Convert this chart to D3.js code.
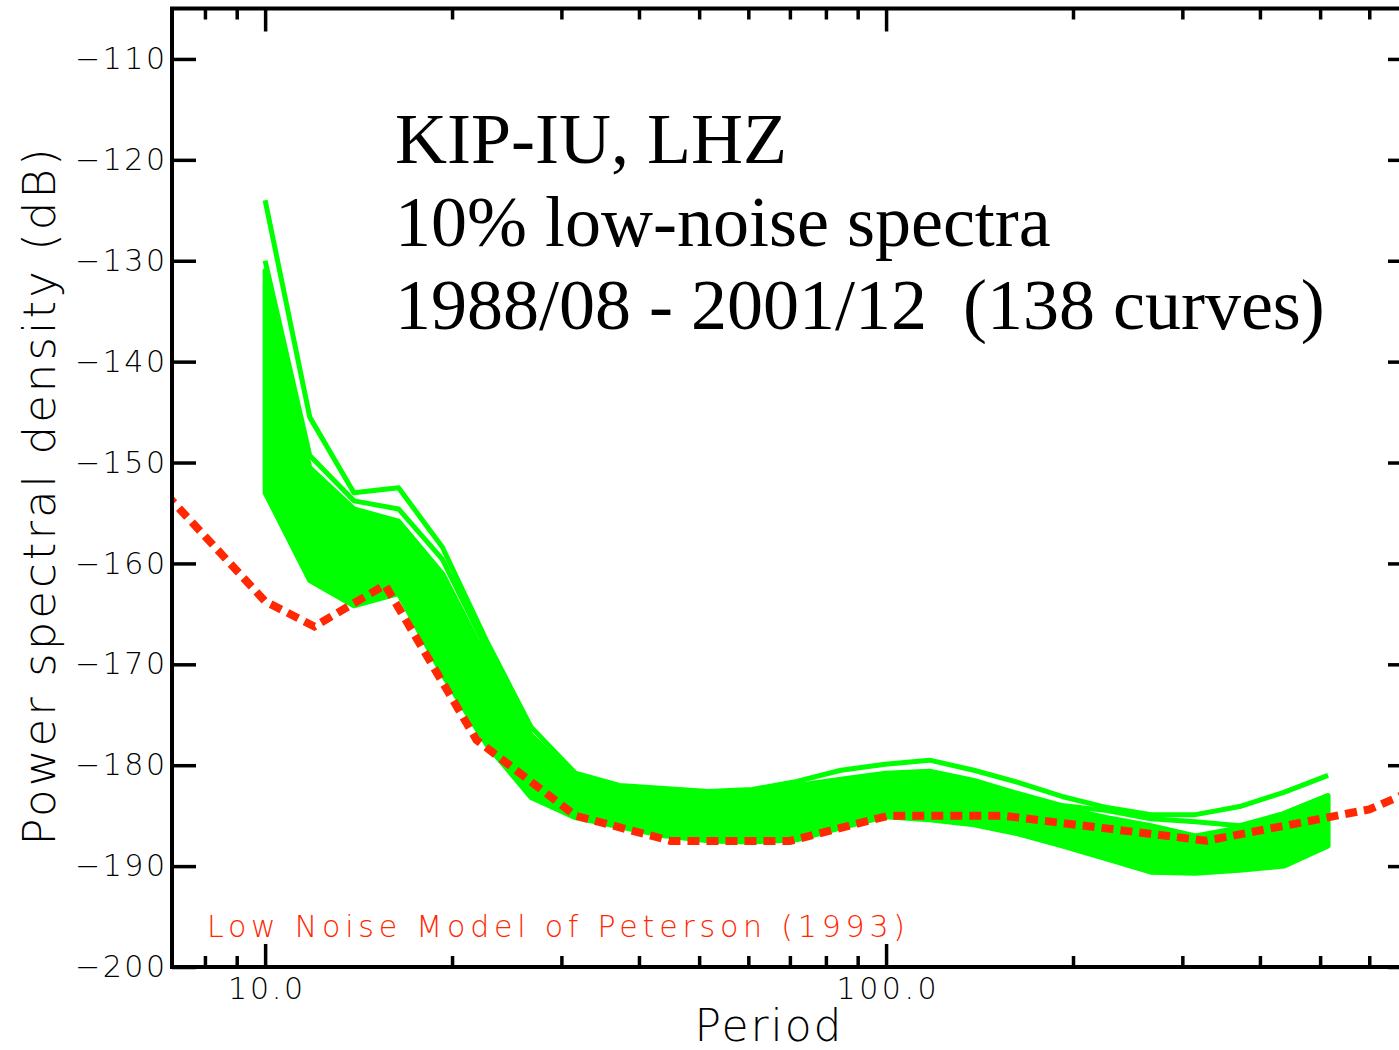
<!DOCTYPE html>
<html>
<head>
<meta charset="utf-8">
<script src="https://cdn.jsdelivr.net/npm/d3@7"></script>
<style>
  html, body { margin: 0; padding: 0; background: #fff; }
  svg { display: block; }
  .sans { font-family: "DejaVu Sans", sans-serif; font-weight: 300; }
  .serif { font-family: "Liberation Serif", "Times New Roman", serif; white-space: pre; }
</style>
</head>
<body>
<svg id="chart" width="1399" height="1050"></svg>
<script>
// periods (s) at which the spectra are sampled
const periods = [10, 11.8, 13.9, 16.4, 19.3, 22.7, 26.8, 31.6, 37.2, 43.9, 51.7, 60.9,
  71.8, 84.6, 99.7, 117.5, 138.5, 163, 192, 227, 267, 315, 371, 437, 515];

// the two loudest curves that stand out above the bundle
const curveA = [-124.0, -145.5, -153.0, -152.5, -158.4, -167.6, -176.2, -180.8, -182.0, -182.3,
  -182.6, -182.4, -181.6, -180.5, -179.9, -179.5, -180.5, -181.7, -183.1, -184.2, -184.9,
  -184.9, -184.1, -182.7, -181.0];
const curveB = [-130.0, -149.3, -153.8, -154.6, -159.6, -168.4, -177.0, -181.2, -182.3, -182.6,
  -182.9, -182.8, -182.0, -181.4, -180.8, -180.6, -181.5, -182.8, -184.0, -184.5, -185.3,
  -185.6, -186.0, -184.8, -183.0];

// top and bottom of the dense bundle of 138 curves
const bandTop = [-131.0, -150.5, -154.6, -155.8, -161.0, -169.4, -177.6, -181.4, -182.5, -182.8,
  -183.1, -183.0, -182.3, -181.6, -181.0, -180.8, -181.6, -182.9, -184.2, -185.2, -186.0,
  -187.0, -186.2, -184.8, -183.0];
const bandLow = [-153.0, -161.7, -164.2, -163.0, -171.0, -177.9, -183.2, -185.2, -186.1, -187.0,
  -187.5, -187.6, -187.4, -186.2, -185.1, -185.4, -185.9, -186.8, -188.0, -189.3, -190.6,
  -190.7, -190.4, -190.0, -188.0];

// Peterson (1993) new low noise model breakpoints
const nlnmPeriods = [6, 10, 12, 15.6, 21.9, 31.6, 45, 70, 101, 154, 328, 600, 1000];
const nlnmDb = [-149.0, -163.75, -166.25, -162.13, -177.5, -185.0, -187.5, -187.5, -185.0,
  -185.0, -187.49, -184.38, -178.48];

const yTicks = [-200, -190, -180, -170, -160, -150, -140, -130, -120, -110];
const xMajorTicks = [10, 100];
const xMinorTicks = [8, 9, 20, 30, 40, 50, 60, 70, 80, 90, 200, 300, 400, 500, 600];

const titleLines = ['KIP-IU, LHZ', '10% low-noise spectra', '1988/08 - 2001/12  (138 curves)'];
const modelLabel = 'Low Noise Model of Peterson (1993)';

const plotLeft = 172, plotRight = 1412, plotTop = 8.5, plotBottom = 967;
const green = '#00ff00', red = '#ff2800';

const svg = d3.select('#chart');

const x = d3.scaleLog().domain([7.08, 703]).range([plotLeft, plotRight]);
const y = d3.scaleLinear().domain([-200, -105]).range([plotBottom, plotTop]);

svg.append('clipPath').attr('id', 'plot-clip')
  .append('rect')
    .attr('x', plotLeft).attr('y', plotTop)
    .attr('width', plotRight - plotLeft).attr('height', plotBottom - plotTop);

const plot = svg.append('g').attr('clip-path', 'url(#plot-clip)');

const rows = periods.map((p, i) => ({ p, a: curveA[i], b: curveB[i], hi: bandTop[i], lo: bandLow[i] }));

const band = d3.area()
  .x(d => x(d.p))
  .y0(d => y(d.lo))
  .y1(d => y(d.hi));

plot.append('path')
  .datum(rows)
  .attr('d', band)
  .attr('fill', green)
  .attr('stroke', green)
  .attr('stroke-width', 5)
  .attr('stroke-linejoin', 'round');

const lineOf = key => d3.line().x(d => x(d.p)).y(d => y(d[key]));

['b', 'a'].forEach(key => {
  plot.append('path')
    .datum(rows)
    .attr('d', lineOf(key))
    .attr('fill', 'none')
    .attr('stroke', green)
    .attr('stroke-width', 5)
    .attr('stroke-linejoin', 'round');
});

// low noise model, dashed
plot.append('path')
  .datum(nlnmPeriods.map((p, i) => ({ p, v: nlnmDb[i] })))
  .attr('d', d3.line().x(d => x(d.p)).y(d => y(d.v)))
  .attr('fill', 'none')
  .attr('stroke', red)
  .attr('stroke-width', 8)
  .attr('stroke-dasharray', '12 7');

// axes: all ticks point inwards
const styleAxis = g => {
  g.select('.domain').remove();
  g.selectAll('.tick line').attr('stroke', '#000').attr('stroke-width', 3.5);
  g.selectAll('.tick text')
    .attr('class', 'sans')
    .attr('fill', '#000')
    .style('font-size', '30px');
};

svg.append('g')
  .attr('transform', `translate(${plotLeft},0)`)
  .call(d3.axisLeft(y).tickValues(yTicks).tickSize(-24).tickSizeOuter(0).tickPadding(7)
    .tickFormat(d3.format('d')))
  .call(styleAxis)
  .call(g => g.selectAll('.tick text').attr('textLength', 90).attr('lengthAdjust', 'spacing'));

svg.append('g')
  .attr('transform', `translate(${plotRight},0)`)
  .call(d3.axisRight(y).tickValues(yTicks).tickSize(-24).tickSizeOuter(0).tickFormat(''))
  .call(styleAxis);

svg.append('g')
  .attr('transform', `translate(0,${plotBottom})`)
  .call(d3.axisBottom(x).tickValues(xMajorTicks).tickSize(-23).tickSizeOuter(0).tickPadding(11)
    .tickFormat(d3.format('.1f')))
  .call(styleAxis)
  .call(g => g.selectAll('.tick text').attr('textLength', d => d < 50 ? 75 : 100)
    .attr('lengthAdjust', 'spacing'));

svg.append('g')
  .attr('transform', `translate(0,${plotBottom})`)
  .call(d3.axisBottom(x).tickValues(xMinorTicks).tickSize(-11).tickSizeOuter(0).tickFormat(''))
  .call(styleAxis);

svg.append('g')
  .attr('transform', `translate(0,${plotTop})`)
  .call(d3.axisTop(x).tickValues(xMajorTicks).tickSize(-23).tickSizeOuter(0).tickFormat(''))
  .call(styleAxis);

svg.append('g')
  .attr('transform', `translate(0,${plotTop})`)
  .call(d3.axisTop(x).tickValues(xMinorTicks).tickSize(-11).tickSizeOuter(0).tickFormat(''))
  .call(styleAxis);

svg.append('rect')
  .attr('x', plotLeft).attr('y', plotTop)
  .attr('width', plotRight - plotLeft).attr('height', plotBottom - plotTop)
  .attr('fill', 'none')
  .attr('stroke', '#000')
  .attr('stroke-width', 4);

// axis titles
svg.append('text')
  .attr('class', 'sans')
  .attr('x', 768).attr('y', 1041)
  .attr('text-anchor', 'middle')
  .attr('textLength', 147).attr('lengthAdjust', 'spacing')
  .style('font-size', '44px')
  .text('Period');

svg.append('text')
  .attr('class', 'sans')
  .attr('transform', 'translate(55,497) rotate(-90)')
  .attr('text-anchor', 'middle')
  .attr('textLength', 697).attr('lengthAdjust', 'spacing')
  .style('font-size', '45px')
  .text('Power spectral density (dB)');

// model label
svg.append('text')
  .attr('class', 'sans')
  .attr('x', 207).attr('y', 937)
  .attr('fill', red)
  .attr('textLength', 698).attr('lengthAdjust', 'spacing')
  .style('font-size', '30px')
  .text(modelLabel);

// station annotation
svg.append('g')
  .selectAll('text')
  .data(titleLines)
  .join('text')
    .attr('class', 'serif')
    .attr('x', 395)
    .attr('y', (d, i) => 163 + i * 83)
    .style('font-size', '72px')
    .text(d => d);
</script>
</body>
</html>
